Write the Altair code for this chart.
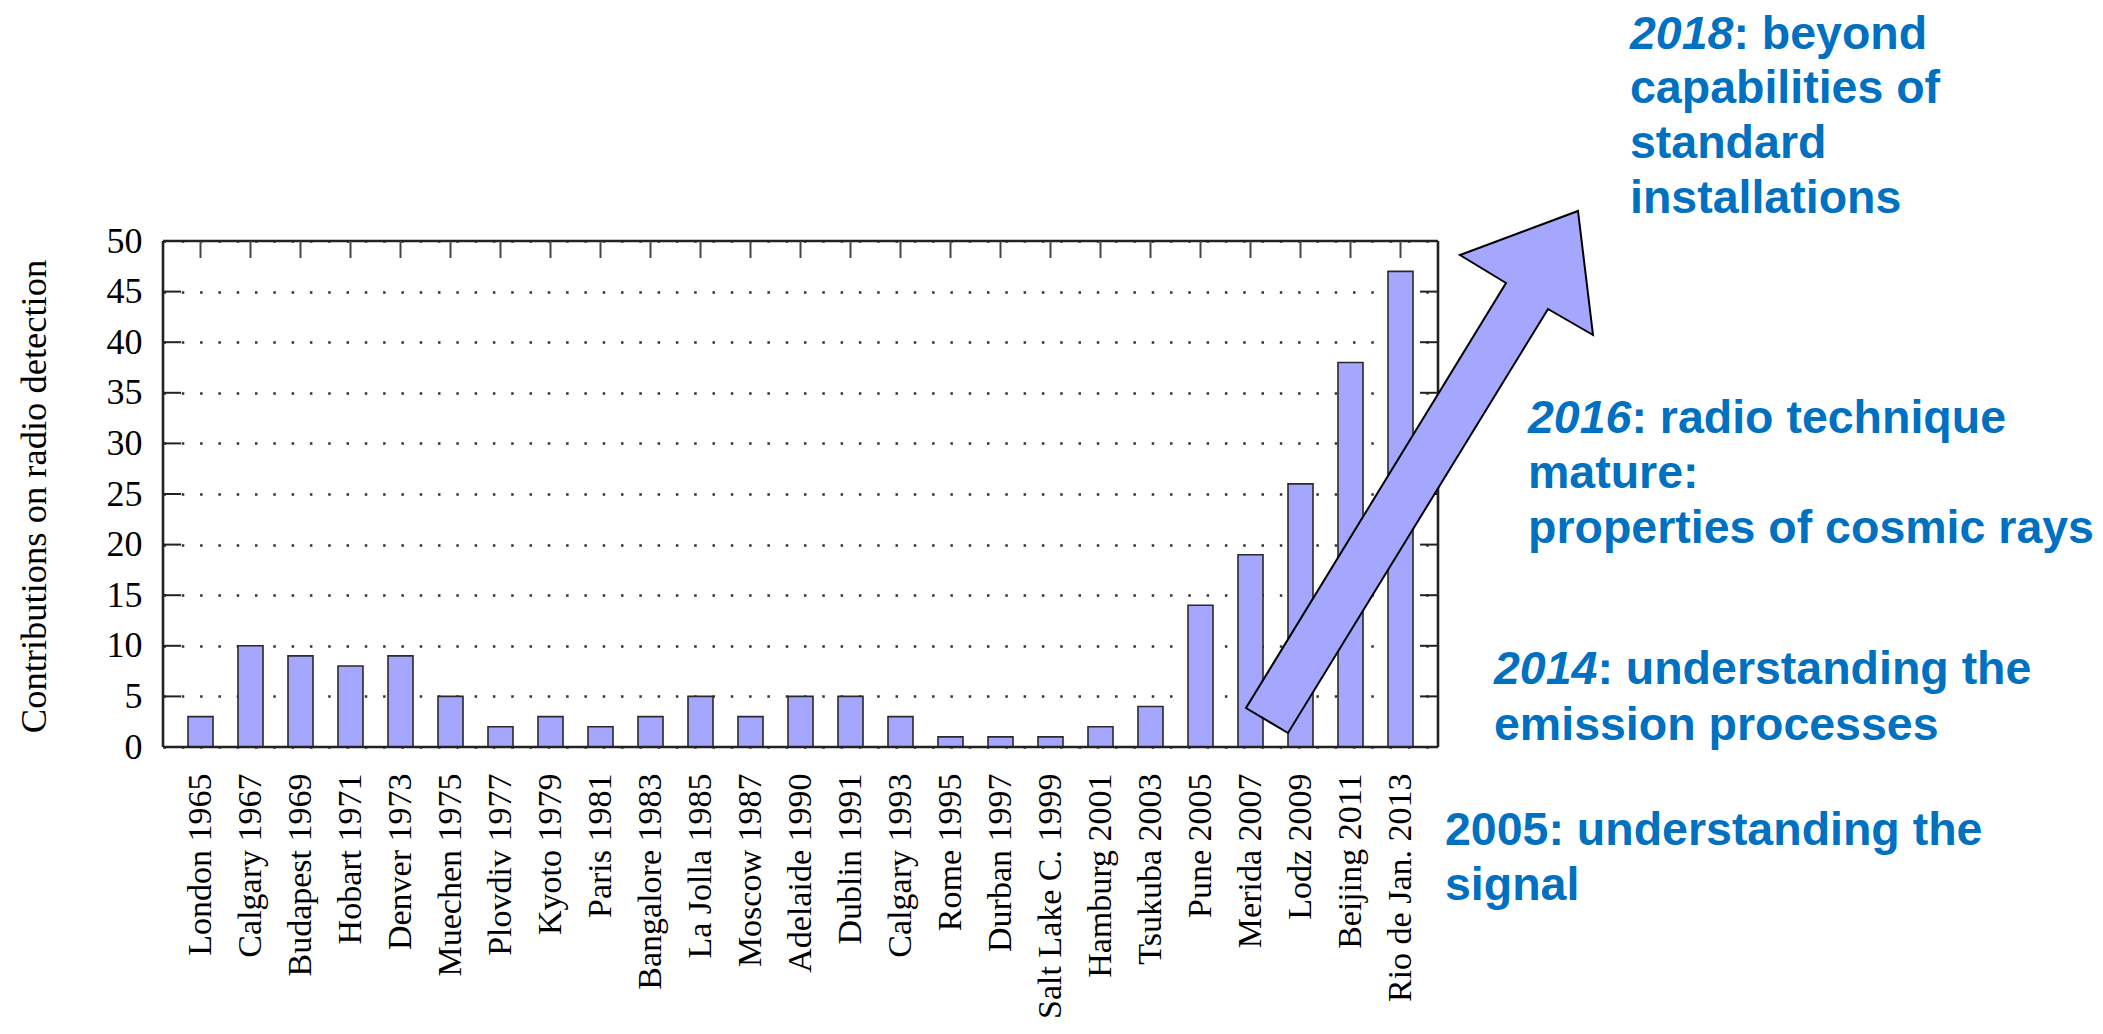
import altair as alt
import pandas as pd

# ---- data ----
conferences = ["London 1965", "Calgary 1967", "Budapest 1969", "Hobart 1971", "Denver 1973",
               "Muechen 1975", "Plovdiv 1977", "Kyoto 1979", "Paris 1981", "Bangalore 1983",
               "La Jolla 1985", "Moscow 1987", "Adelaide 1990", "Dublin 1991", "Calgary 1993",
               "Rome 1995", "Durban 1997", "Salt Lake C. 1999", "Hamburg 2001", "Tsukuba 2003",
               "Pune 2005", "Merida 2007", "Lodz 2009", "Beijing 2011", "Rio de Jan. 2013"]
contributions = [3, 10, 9, 8, 9, 5, 2, 3, 2, 3, 5, 3, 5, 5, 3, 1, 1, 1, 2, 4, 14, 19, 26, 38, 47]
y_ticks = [0, 5, 10, 15, 20, 25, 30, 35, 40, 45, 50]

# annotation texts (text, italic)
ann_text = ["2018", ": beyond", "capabilities of", "standard", "installations",
            "2016", ": radio technique", "mature:", "properties of cosmic rays",
            "2014", ": understanding the", "emission processes",
            "2005: understanding the", "signal"]
ann_italic = [True, False, False, False, False,
              True, False, False, False,
              True, False, False,
              False, False]

# ---- layout (page pixel coordinates for annotations) ----
W, H = 1275, 506
OX, OY = 163, 241  # page position of plot origin
ann_px = [1630, 1733.4, 1630, 1630, 1630,
          1528, 1631.4, 1528, 1528,
          1494, 1597.4, 1494,
          1445, 1445]
ann_py = [49, 49, 103, 158, 213,
          433, 433, 488, 543,
          684, 684, 740,
          845, 900]

BAR = "#a4a7fd"
BLUE = "#0070c0"
SERIF = "Liberation Serif"
SANS = "Liberation Sans"

df = pd.DataFrame({"conf": conferences, "n": contributions})
ticks_df = pd.DataFrame({"n": y_ticks})

xscale = alt.Scale(domain=conferences, paddingInner=0.5, paddingOuter=0.5)
yscale = alt.Scale(domain=[0, 50], nice=False, zero=True)

xaxis = alt.Axis(title=None, labelAngle=270, ticks=False, domain=False, grid=False,
                 labelFont=SERIF, labelFontSize=34, labelColor="black",
                 labelPadding=26, labelAlign="right", labelBaseline="middle",
                 labelOverlap=False, labelLimit=600)
yaxis = alt.Axis(title="Contributions on radio detection", values=y_ticks,
                 ticks=False, domain=False, grid=True,
                 gridDash=[2.5, 15.8], gridColor="#333333", gridWidth=2.5,
                 labelFont=SERIF, labelFontSize=36, labelColor="black",
                 labelPadding=21,
                 titleFont=SERIF, titleFontSize=36.5, titleFontWeight="normal",
                 titleColor="black", titleAngle=270, titleX=-129, titleY=255,
                 titleAlign="center", titleBaseline="middle")

X = alt.X("conf:N", sort=conferences, scale=xscale, axis=xaxis)
Y = alt.Y("n:Q", scale=yscale, axis=yaxis)

bars = alt.Chart(df).mark_bar(color=BAR, stroke="#2a2a2a", strokeWidth=1.6).encode(x=X, y=Y)

frame_col = "#222222"
frame_w = 2.6
one = pd.DataFrame({"k": [0]})
frame_top = alt.Chart(one).mark_rule(color=frame_col, strokeWidth=frame_w).encode(
    x=alt.value(0), x2=alt.value(W), y=alt.value(0))
frame_bottom = alt.Chart(one).mark_rule(color=frame_col, strokeWidth=frame_w).encode(
    x=alt.value(0), x2=alt.value(W), y=alt.value(H))
frame_left = alt.Chart(one).mark_rule(color=frame_col, strokeWidth=frame_w).encode(
    x=alt.value(0), y=alt.value(0), y2=alt.value(H))
frame_right = alt.Chart(one).mark_rule(color=frame_col, strokeWidth=frame_w).encode(
    x=alt.value(W), y=alt.value(0), y2=alt.value(H))

left_ticks = alt.Chart(ticks_df).mark_rule(color=frame_col, strokeWidth=2).encode(
    y=Y, x=alt.value(0), x2=alt.value(18))
right_ticks = alt.Chart(ticks_df).mark_rule(color=frame_col, strokeWidth=2).encode(
    y=Y, x=alt.value(W - 18), x2=alt.value(W))
top_ticks = alt.Chart(df).mark_rule(color="#444444", strokeWidth=2).encode(
    x=X, y=alt.value(0), y2=alt.value(17))

# big arrow as a custom symbol (path in units of sqrt(size)/2 = 100 px)
arrow_path = ("M1.65,-2.6 L1.8,-1.36 L1.35,-1.62 L-1.25,2.62 L-1.67,2.37 "
              "L0.93,-1.88 L0.47,-2.16 Z")
arrow = alt.Chart(one).mark_point(
    shape=arrow_path, size=40000, filled=True, fill=BAR, stroke="black",
    strokeWidth=2, opacity=1, fillOpacity=1, strokeOpacity=1
).encode(x=alt.value(1250), y=alt.value(230))

texts = []
for t, it, px, py in zip(ann_text, ann_italic, ann_px, ann_py):
    d = pd.DataFrame({"t": [t]})
    texts.append(
        alt.Chart(d).mark_text(
            font=SANS, fontSize=46.5, fontWeight="bold",
            fontStyle="italic" if it else "normal",
            color=BLUE, align="left", baseline="alphabetic"
        ).encode(text="t:N", x=alt.value(px - OX), y=alt.value(py - OY))
    )

chart = alt.layer(
    bars, frame_top, frame_bottom, frame_left, frame_right,
    left_ticks, right_ticks, top_ticks, arrow, *texts
).properties(
    width=W, height=H,
    autosize=alt.AutoSizeParams(type="none"),
    padding={"left": OX - 8, "top": OY - 8, "right": 656, "bottom": 277},
).configure_view(stroke=None).configure(background="white")

chart.save("out.html", embed_options={"renderer": "svg", "actions": False})
